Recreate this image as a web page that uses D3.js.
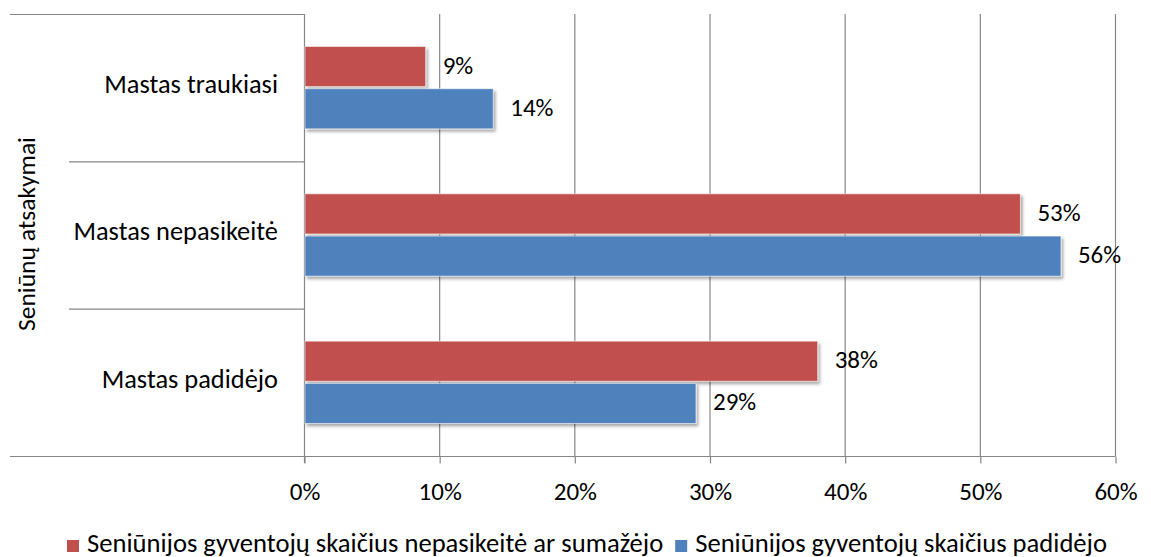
<!DOCTYPE html>
<html>
<head>
<meta charset="utf-8">
<script src="https://cdn.jsdelivr.net/npm/d3@7"></script>
<style>
  html, body { margin: 0; padding: 0; background: #ffffff; }
  svg { display: block; }
  text { font-family: Carlito, Lato, "Open Sans", sans-serif; fill: #000; }
</style>
</head>
<body>
<svg id="chart" width="1151" height="557"></svg>
<script>
// Response categories, listed top to bottom
const categories = ["Mastas traukiasi", "Mastas nepasikeitė", "Mastas padidėjo"];
// Series names (legend order)
const seriesNames = [
  "Seniūnijos gyventojų skaičius nepasikeitė ar sumažėjo",
  "Seniūnijos gyventojų skaičius padidėjo"
];
// Share of answers per category, in percent
const decreasedOrSame = [9, 53, 38];
const increased = [14, 56, 29];
// Axis ticks
const tickValues = [0, 10, 20, 30, 40, 50, 60];
const axisTitle = "Seniūnų atsakymai";

const seriesValues = [decreasedOrSame, increased];
const colors = ["#C0504D", "#4F81BD"];
const gridColor = "#878787";

const svg = d3.select("#chart");

const plotLeft = 304, plotRight = 1115, plotTop = 14, plotBottom = 456;

const x = d3.scaleLinear().domain([0, 60]).range([plotLeft, plotRight]);
const y = d3.scaleBand().domain(categories).range([plotTop, plotBottom]);
const yInner = d3.scaleBand().domain(d3.range(seriesNames.length))
  .range([0, y.bandwidth()]).paddingInner(0.05).paddingOuter(0.77);

// Drop shadow for the bars
const defs = svg.append("defs");
const f = defs.append("filter").attr("id", "shadow")
  .attr("x", "-10%").attr("y", "-20%").attr("width", "130%").attr("height", "160%");
f.append("feDropShadow").attr("dx", 2).attr("dy", 2.5).attr("stdDeviation", 1.6)
  .attr("flood-color", "#000").attr("flood-opacity", 0.35);

// Vertical gridlines
svg.append("g").selectAll("line").data(tickValues.slice(1)).join("line")
  .attr("x1", d => x(d) + 0.5).attr("x2", d => x(d) + 0.5)
  .attr("y1", plotTop).attr("y2", plotBottom)
  .attr("stroke", gridColor).attr("stroke-width", 1.2);

// Category axis: outer lines, separators, vertical axis line
const catLines = svg.append("g").attr("stroke", gridColor).attr("stroke-width", 1.2);
catLines.append("line").attr("x1", 10).attr("x2", plotLeft)
  .attr("y1", plotTop + 0.5).attr("y2", plotTop + 0.5);
categories.slice(1).forEach(c => {
  catLines.append("line").attr("x1", 69).attr("x2", plotLeft)
    .attr("y1", y(c) + 0.5).attr("y2", y(c) + 0.5);
});
catLines.append("line").attr("x1", plotLeft + 0.5).attr("x2", plotLeft + 0.5)
  .attr("y1", plotTop).attr("y2", plotBottom + 7);

// Value axis along the bottom
const xAxis = d3.axisBottom(x).tickValues(tickValues)
  .tickFormat(d => d + "%").tickSize(7).tickPadding(19);
const gx = svg.append("g").attr("transform", `translate(0.5,${plotBottom + 0.5})`).call(xAxis);
gx.select(".domain").remove();
gx.selectAll(".tick line").attr("stroke", gridColor).attr("stroke-width", 1.2);
gx.selectAll(".tick text").attr("font-size", 25).attr("fill", "#000")
  .style("font-family", "Carlito, Lato, 'Open Sans', sans-serif");
svg.append("line").attr("x1", 10).attr("x2", plotRight + 0.5)
  .attr("y1", plotBottom + 0.5).attr("y2", plotBottom + 0.5)
  .attr("stroke", gridColor).attr("stroke-width", 1.2);

// Bars
seriesValues.forEach((vals, si) => {
  const g = svg.append("g");
  g.selectAll("rect").data(vals).join("rect")
    .attr("x", x(0) + 1)
    .attr("y", (d, i) => y(categories[i]) + yInner(si))
    .attr("width", d => x(d) - x(0) - 1)
    .attr("height", yInner.bandwidth())
    .attr("fill", colors[si])
    .attr("stroke", "rgba(255,255,255,0.55)").attr("stroke-width", 1)
    .attr("filter", "url(#shadow)");
  g.selectAll("text").data(vals).join("text")
    .attr("x", d => x(d) + 17)
    .attr("y", (d, i) => y(categories[i]) + yInner(si) + yInner.bandwidth() / 2 + 1)
    .attr("dominant-baseline", "middle")
    .attr("font-size", 25)
    .text(d => d + "%");
});

// Category labels
svg.append("g").selectAll("text").data(categories).join("text")
  .attr("x", 278)
  .attr("y", d => y(d) + y.bandwidth() / 2 - 1)
  .attr("text-anchor", "end").attr("dominant-baseline", "middle")
  .attr("font-size", 26.4)
  .text(d => d);

// Axis title
svg.append("text")
  .attr("transform", "translate(29,234) rotate(-90)")
  .attr("text-anchor", "middle").attr("dominant-baseline", "middle")
  .attr("font-size", 25.5)
  .text(axisTitle);

// Legend
const legend = svg.append("g");
let lx = 67;
seriesNames.forEach((name, i) => {
  legend.append("rect").attr("x", lx).attr("y", 540).attr("width", 12).attr("height", 12)
    .attr("fill", colors[i]);
  const t = legend.append("text").attr("x", lx + 20).attr("y", 552)
    .attr("font-size", 26.6).text(name);
  lx = lx + 20 + t.node().getComputedTextLength() + 12;
});
</script>
</body>
</html>
